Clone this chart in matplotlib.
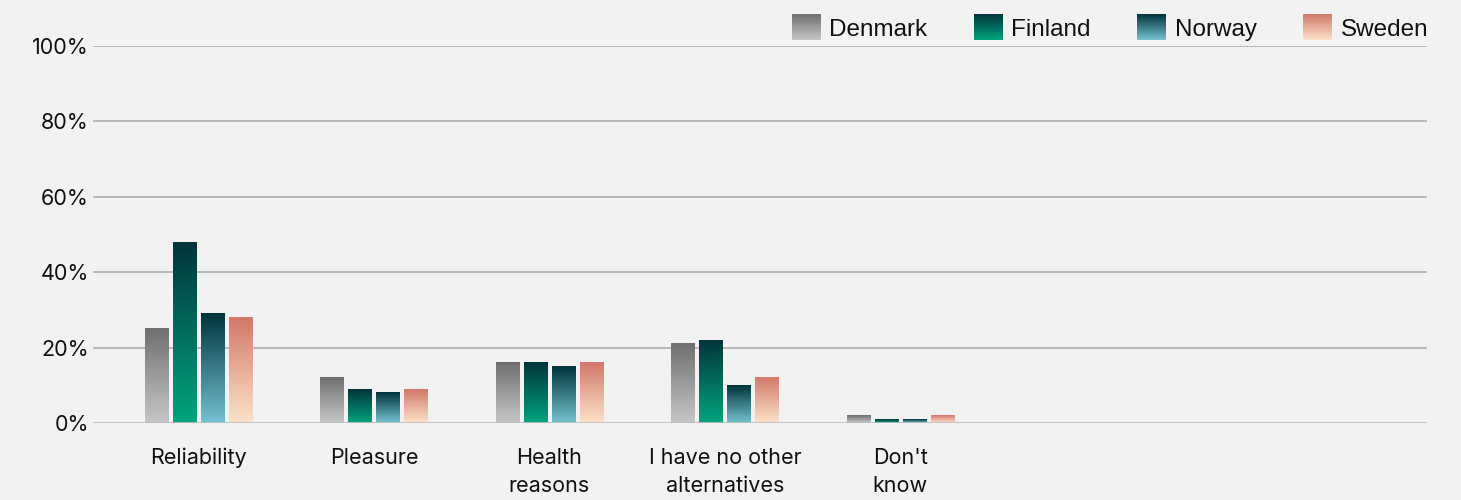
import numpy as np
import matplotlib
matplotlib.use("Agg")
import matplotlib.pyplot as plt
from matplotlib.colors import LinearSegmentedColormap
from matplotlib.image import BboxImage
from matplotlib.legend_handler import HandlerBase
from matplotlib.patches import Rectangle
from matplotlib.transforms import Bbox, TransformedBbox

categories = ["Reliability", "Pleasure", "Health\nreasons",
              "I have no other\nalternatives", "Don't\nknow"]
countries = ["Denmark", "Finland", "Norway", "Sweden"]
denmark = [25, 12, 16, 21, 2]
finland = [48, 9, 16, 22, 1]
norway = [29, 8, 15, 10, 1]
sweden = [28, 9, 16, 12, 2]
y_ticks = [0, 20, 40, 60, 80, 100]

# gradient colours, (bottom, top)
gradients = {
    "Denmark": ("#c6c7c9", "#6f6f6f"),
    "Finland": ("#00a57f", "#00343b"),
    "Norway": ("#74c2d2", "#00343b"),
    "Sweden": ("#fbe3ca", "#d3786a"),
}

BG = "#f2f2f2"
grad = np.linspace(0, 1, 256).reshape(-1, 1)


class GradientHandler(HandlerBase):
    """Legend swatch drawn as a vertical gradient."""

    def create_artists(self, legend, orig_handle, xdescent, ydescent,
                       width, height, fontsize, trans):
        bbox = TransformedBbox(Bbox.from_bounds(-xdescent, -ydescent, width, height), trans)
        img = BboxImage(bbox, cmap=orig_handle.cmap, interpolation="bilinear", origin="lower")
        img.set_data(grad)
        return [img]


class GradHandle(Rectangle):
    def __init__(self, cmap):
        super().__init__((0, 0), 1, 1)
        self.cmap = cmap


fig = plt.figure(figsize=(14.61, 5.0), dpi=100, facecolor=BG)
ax = fig.add_axes([0.0637, 0.154, 0.913, 0.754])
ax.set_facecolor(BG)

series = [denmark, finland, norway, sweden]
x = np.arange(len(categories))
pitch = 0.16
width = 0.132
handles = []
for i, (name, vals) in enumerate(zip(countries, series)):
    cmap = LinearSegmentedColormap.from_list(name, gradients[name])
    offs = (i - 1.5) * pitch
    bars = ax.bar(x + offs, vals, width, color="none", zorder=2)
    for b in bars:
        ax.imshow(grad, cmap=cmap, origin="lower", aspect="auto",
                  interpolation="bilinear",
                  extent=(b.get_x(), b.get_x() + b.get_width(), 0, b.get_height()),
                  zorder=2)
    handles.append(GradHandle(cmap))

ax.set_xlim(-0.6, 7.0)
ax.set_ylim(0, 100)
ax.set_yticks(y_ticks)
ax.set_yticklabels([f"{t}%" for t in y_ticks])
ax.set_xticks(x)
ax.set_xticklabels(categories, linespacing=1.5)

for t in y_ticks[1:]:
    ax.axhline(t, color="#b2b2b2", lw=1.3, zorder=1)
ax.axhline(0, color="#bdbdbd", lw=2.2, alpha=0.85, zorder=3)

for s in ax.spines.values():
    s.set_visible(False)
ax.tick_params(length=0)
ax.tick_params(axis="y", pad=3)
ax.tick_params(axis="x", pad=18)
for lab in ax.get_xticklabels() + ax.get_yticklabels():
    lab.set_fontfamily("Inter")
    lab.set_fontsize(15.5)
    lab.set_color("#111111")
for lab in ax.get_xticklabels():
    lab.set_verticalalignment("top")

leg = fig.legend(handles, countries, handler_map={GradHandle: GradientHandler()},
                 ncol=4, loc="upper right", bbox_to_anchor=(0.9775, 0.97),
                 frameon=False, borderpad=0, borderaxespad=0,
                 handlelength=1.19, handleheight=1.23, handletextpad=0.36,
                 columnspacing=1.9, prop={"family": "Liberation Sans", "size": 17.5})
for txt in leg.get_texts():
    txt.set_color("#111111")

fig.savefig("out.png", dpi=100, facecolor=BG)
